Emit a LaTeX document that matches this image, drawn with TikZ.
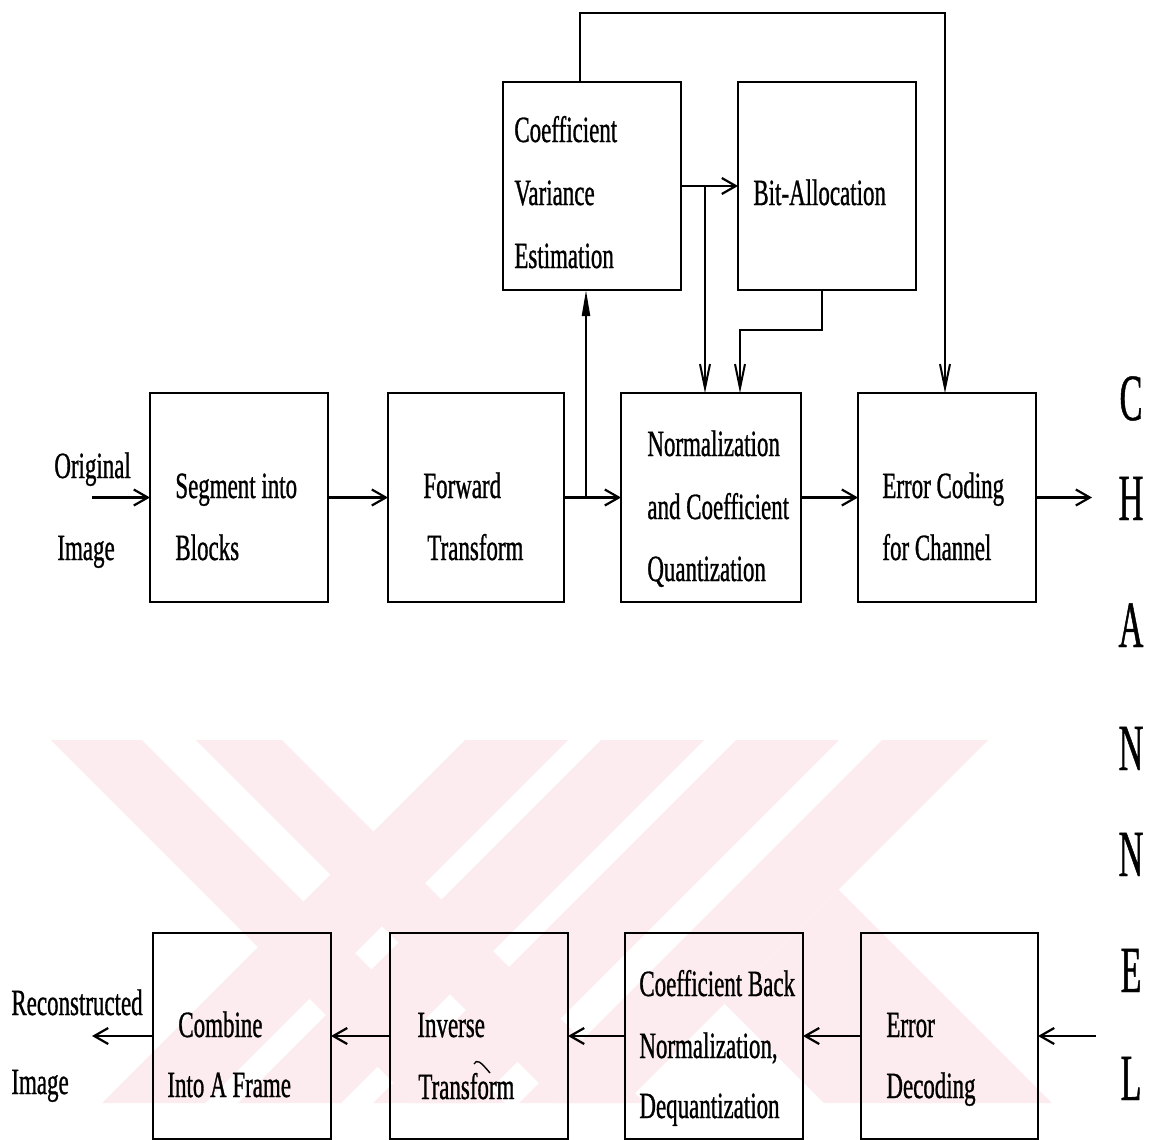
\documentclass[tikz,border=0pt]{standalone}
\usepackage{fontspec}
\setmainfont{Liberation Serif}[FakeStretch=0.62,FakeBold=0.8]
\newfontfamily\chanfont{Liberation Serif}[FakeStretch=0.52,FakeBold=0.7]
\usetikzlibrary{arrows.meta,calc}
\definecolor{wmark}{RGB}{252,235,239}

\tikzset{
  box/.style={draw, line width=1.1pt, inner sep=0pt, outer sep=0pt,
              minimum width=89pt, minimum height=104.5pt},
  lbl/.style={anchor=base west, inner sep=0pt, font=\fontsize{18.5}{21}\selectfont},
  chan/.style={anchor=base, inner sep=0pt, font=\chanfont\fontsize{33}{36}\selectfont},
  flow/.style={line width=1.1pt, -{Straight Barb[length=7pt,width=8pt]}},
  drop/.style={line width=1pt, -{Straight Barb[length=12pt,width=5pt]}},
  rise/.style={line width=1.1pt, -{Triangle[length=13pt,width=4pt]}},
  stripe/.style={fill=wmark, draw=none},
}

\begin{document}
\begin{tikzpicture}[x=0.5pt,y=-0.5pt]
\useasboundingbox (0,0) rectangle (1153,1140);

% background emblem made of diagonal bands
\fill[stripe] (51,740) -- (142,740) -- (505,1103) -- (414,1103) -- cycle;
\fill[stripe] (196,740) -- (282,740) -- (645,1103) -- (559,1103) -- cycle;
\fill[stripe] (465,740) -- (568,740) -- (205,1103) -- (102,1103) -- cycle;
\fill[stripe] (601,740) -- (704,740) -- (341,1103) -- (238,1103) -- cycle;
\fill[stripe] (736,740) -- (839,740) -- (476,1103) -- (373,1103) -- cycle;
\fill[stripe] (882,740) -- (988,740) -- (625,1103) -- (519,1103) -- cycle;
\fill[stripe] (838.5,889.5) -- (1052,1103) -- (824,1103) -- (724.5,1003.5) -- cycle;

% encoder blocks
\node[box] (seg) at (239,497.5) {};
\node[box, minimum width=88pt] (fwd) at (476,497.5) {};
\node[box, minimum width=90pt] (nrm) at (711,497.5) {};
\node[box] (ecc) at (947,497.5) {};
\node[box, minimum height=104pt] (cve) at (592,186) {};
\node[box, minimum height=104pt] (bit) at (827,186) {};

% decoder blocks
\node[box, minimum height=103pt] (cmb) at (242,1036) {};
\node[box, minimum height=103pt] (inv) at (479,1036) {};
\node[box, minimum height=103pt] (cbn) at (714,1036) {};
\node[box, minimum height=103pt, minimum width=88.5pt] (edc) at (949.5,1036) {};

% block texts
\node[lbl] (t-orig1) at (54,478) {Original};
\node[lbl] (t-orig2) at (57,560) {Image};
\node[lbl] (t-seg1) at (175,498) {Segment into};
\node[lbl] (t-seg2) at (175,560) {Blocks};
\node[lbl] (t-fwd1) at (423,498) {Forward};
\node[lbl] (t-fwd2) at (427,560) {Transform};
\node[lbl] (t-nrm1) at (647,456) {Normalization};
\node[lbl] (t-nrm2) at (647,519) {and Coefficient};
\node[lbl] (t-nrm3) at (647,581) {Quantization};
\node[lbl] (t-ecc1) at (882,498) {Error Coding};
\node[lbl] (t-ecc2) at (882,560) {for Channel};
\node[lbl] (t-cve1) at (514,142) {Coefficient};
\node[lbl] (t-cve2) at (514,205) {Variance};
\node[lbl] (t-cve3) at (514,268) {Estimation};
\node[lbl] (t-bit) at (753,205) {Bit-Allocation};

\node[lbl] (t-rec1) at (11,1015) {Reconstructed};
\node[lbl] (t-rec2) at (11,1094) {Image};
\node[lbl] (t-cmb1) at (178,1037) {Combine};
\node[lbl] (t-cmb2) at (167,1097) {Into A Frame};
\node[lbl] (t-inv1) at (417,1037) {Inverse};
\node[lbl] (t-inv2) at (418,1099) {Transform};
\node[lbl] (t-cbn1) at (639,996) {Coefficient Back};
\node[lbl] (t-cbn2) at (639,1058) {Normalization,};
\node[lbl] (t-cbn3) at (639,1118) {Dequantization};
\node[lbl] (t-edc1) at (886,1037) {Error};
\node[lbl] (t-edc2) at (886,1098) {Decoding};
% stray pen stroke above "Transform"
\draw[line width=0.7pt] (474,1064) .. controls (477,1059) and (480,1061) .. (490,1073);

% channel lettering
\node[chan] (ch1) at (1131,420) {C};
\node[chan] (ch2) at (1131,520) {H};
\node[chan] (ch3) at (1131,647) {A};
\node[chan] (ch4) at (1131,770) {N};
\node[chan] (ch5) at (1131,876) {N};
\node[chan] (ch6) at (1131,992) {E};
\node[chan] (ch7) at (1131,1100) {L};

% encoder connections
\coordinate (src) at (92,497.5);
\coordinate (snk) at (1092,497.5);
\coordinate (br1) at (586,497.5);
\coordinate (br2) at (705,186);
\coordinate (ba) at (740,330);
\coordinate (fb) at (945,13);

\draw[flow] (src) -- (seg.west);
\draw[flow] (seg.east) -- (fwd.west);
\draw[flow] (fwd.east) -- (nrm.west);
\draw[rise] (br1) -- (br1 |- cve.south);
\draw[flow] (cve.east) -- (bit.west);
\draw[drop] (br2) -- (br2 |- nrm.north);
\draw[drop] ([xshift=-2.5pt]bit.south) |- (ba) -- (ba |- nrm.north);
\draw[drop] ([xshift=-6pt]cve.north) |- (fb) -- (fb |- ecc.north);
\draw[flow] (nrm.east) -- (ecc.west);
\draw[flow] (ecc.east) -- (snk);

% decoder connections
\coordinate (din) at (1096,1036);
\coordinate (dout) at (92,1036);
\draw[flow] (din) -- (edc.east);
\draw[flow] (edc.west) -- (cbn.east);
\draw[flow] (cbn.west) -- (inv.east);
\draw[flow] (inv.west) -- (cmb.east);
\draw[flow] (cmb.west) -- (dout);
\end{tikzpicture}
\end{document}
